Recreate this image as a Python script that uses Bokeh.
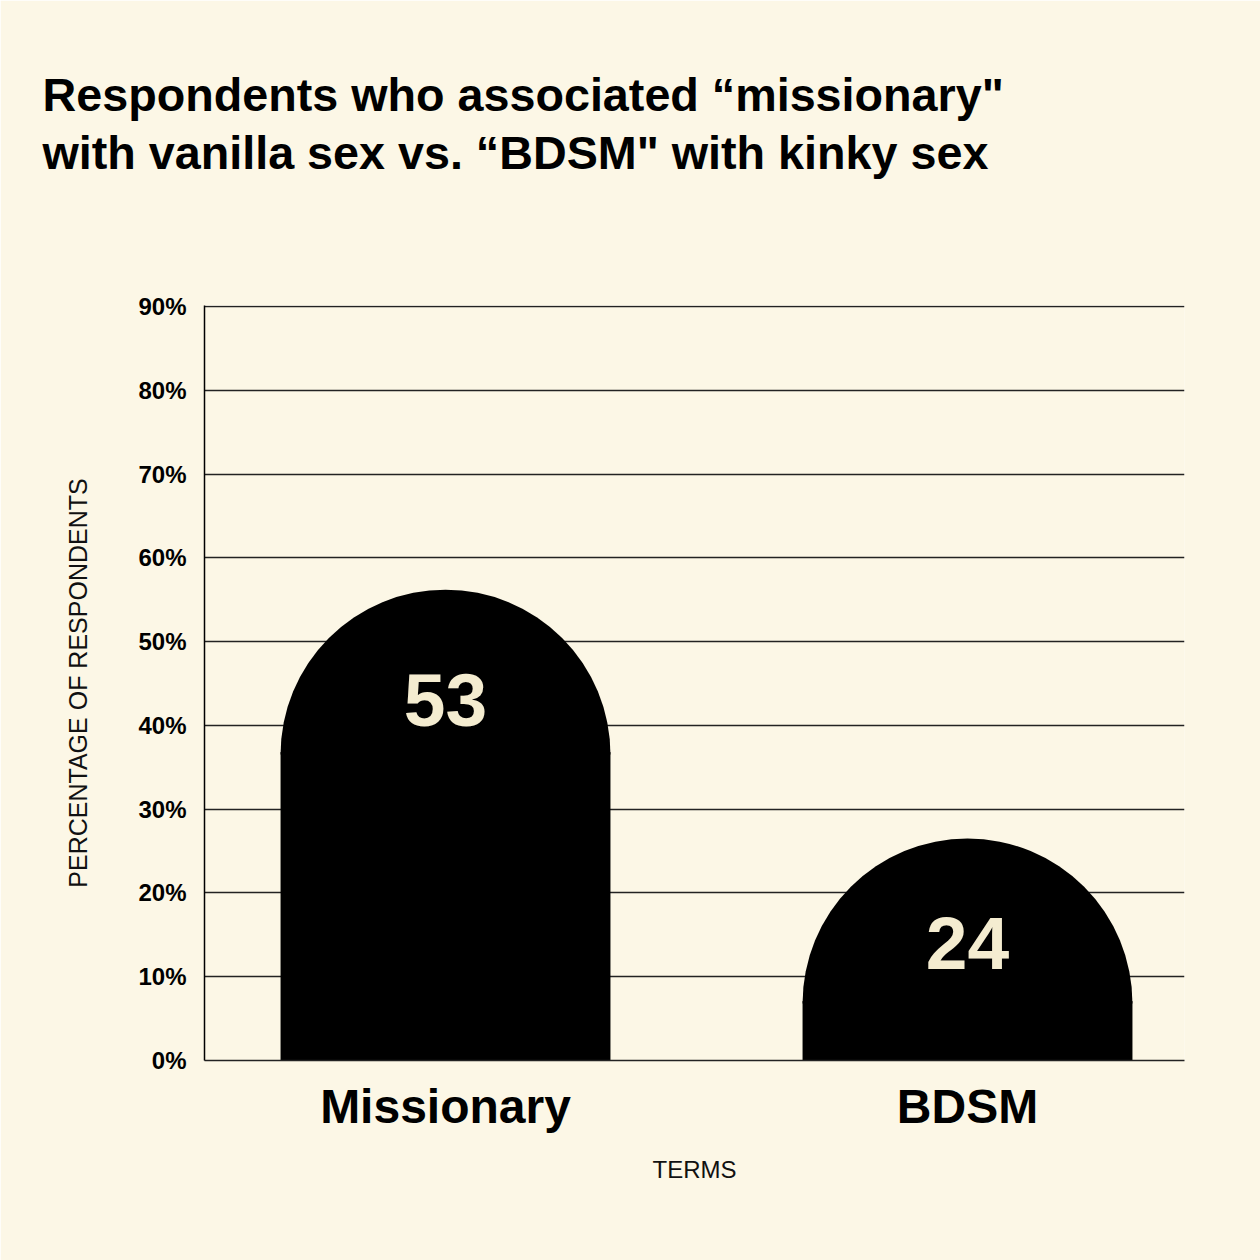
import numpy as np
from bokeh.plotting import figure
from bokeh.models import FixedTicker, Range1d, PrintfTickFormatter, Title
from bokeh.core.properties import value
from bokeh.embed import file_html
from bokeh.resources import INLINE

# ---- data ----
categories = ["Missionary", "BDSM"]
values = [53, 24]                 # printed values (% of respondents)
dome_tops = [56.2, 26.5]          # top of each rounded bar as drawn (%)
y_ticks = [0, 10, 20, 30, 40, 50, 60, 70, 80, 90]
title_lines = ["Respondents who associated \u201cmissionary\"",
               "with vanilla sex vs. \u201cBDSM\" with kinky sex"]
y_label = "PERCENTAGE OF RESPONDENTS"
x_label = "TERMS"

# ---- style ----
BG = "#fcf7e6"
INK = "#000000"
CREAM = "#f4ecd0"
FONT = "Liberation Sans"
FRAME_W, FRAME_H = 980, 755
Y_MAX = 90
Y_END = Y_MAX + 1 / (754 / Y_MAX)   # one pixel of head-room so the top grid line shows
X_START, X_END = -0.4617, 1.4157
BAR_W = 0.632

px_per_x = FRAME_W / (X_END - X_START)
px_per_y = FRAME_H / Y_END
r_y = (BAR_W / 2 * px_per_x) / px_per_y
xs = list(range(len(categories)))
centers = [t - r_y for t in dome_tops]

p = figure(frame_width=FRAME_W, frame_height=FRAME_H,
           x_range=Range1d(X_START, X_END), y_range=Range1d(0, Y_END),
           output_backend="svg", toolbar_location=None,
           title="\n".join(title_lines),
           min_border_left=204, min_border_right=76,
           min_border_top=305, min_border_bottom=200)
p.background_fill_color = BG
p.border_fill_color = BG
p.outline_line_color = None

# the two-line title (outermost panel above the chart)
p.title.text_font = FONT
p.title.text_font_style = "bold"
p.title.text_font_size = "46.7px"
p.title.text_color = INK
p.title.text_line_height = 1.12
p.title.align = "left"
p.title.offset = -162
p.title.standoff = 10

# empty spacer panel between the chart frame and the title
p.add_layout(Title(text=" ", text_font_size="1px", standoff=118), "above")

# bars: straight part + semicircular dome
p.vbar(x=xs, top=[c + 0.3 for c in centers], bottom=0, width=BAR_W,
       fill_color=INK, line_color=None)
p.wedge(x=xs, y=centers, radius=BAR_W / 2, start_angle=0, end_angle=np.pi,
        fill_color=INK, line_color=None)

p.text(x=xs, y=[v - 10 for v in values], text=[str(v) for v in values],
       text_align="center", text_baseline="middle",
       text_font=value(FONT), text_font_style="bold",
       text_font_size="75px", text_color=CREAM)

# grid
p.xgrid.visible = False
p.ygrid.ticker = FixedTicker(ticks=y_ticks)
p.ygrid.grid_line_color = "#222222"
p.ygrid.grid_line_width = 1.5

# y axis
ya = p.yaxis[0]
ya.ticker = FixedTicker(ticks=y_ticks)
ya.formatter = PrintfTickFormatter(format="%d%%")
ya.axis_line_color = INK
ya.axis_line_width = 1.5
ya.major_tick_line_color = None
ya.minor_tick_line_color = None
ya.major_tick_out = 0
ya.major_tick_in = 0
ya.major_label_standoff = 18
ya.major_label_text_font = FONT
ya.major_label_text_font_style = "bold"
ya.major_label_text_font_size = "24px"
ya.major_label_text_color = INK
ya.axis_label = y_label
ya.axis_label_text_font = FONT
ya.axis_label_text_font_style = "normal"
ya.axis_label_text_font_size = "25px"
ya.axis_label_text_color = "#111111"
ya.axis_label_standoff = 43

# x axis
xa = p.xaxis[0]
xa.ticker = FixedTicker(ticks=xs)
xa.major_label_overrides = {i: c for i, c in zip(xs, categories)}
xa.axis_line_color = "#222222"
xa.axis_line_width = 1.5
xa.major_tick_line_color = None
xa.minor_tick_line_color = None
xa.major_tick_out = 0
xa.major_tick_in = 0
xa.major_label_standoff = 19
xa.major_label_text_font = FONT
xa.major_label_text_font_style = "bold"
xa.major_label_text_font_size = "48px"
xa.major_label_text_color = INK
xa.axis_label = x_label
xa.axis_label_text_font = FONT
xa.axis_label_text_font_style = "normal"
xa.axis_label_text_font_size = "24px"
xa.axis_label_text_color = "#111111"
xa.axis_label_standoff = 20

open("out.html", "w").write(file_html(p, INLINE))
